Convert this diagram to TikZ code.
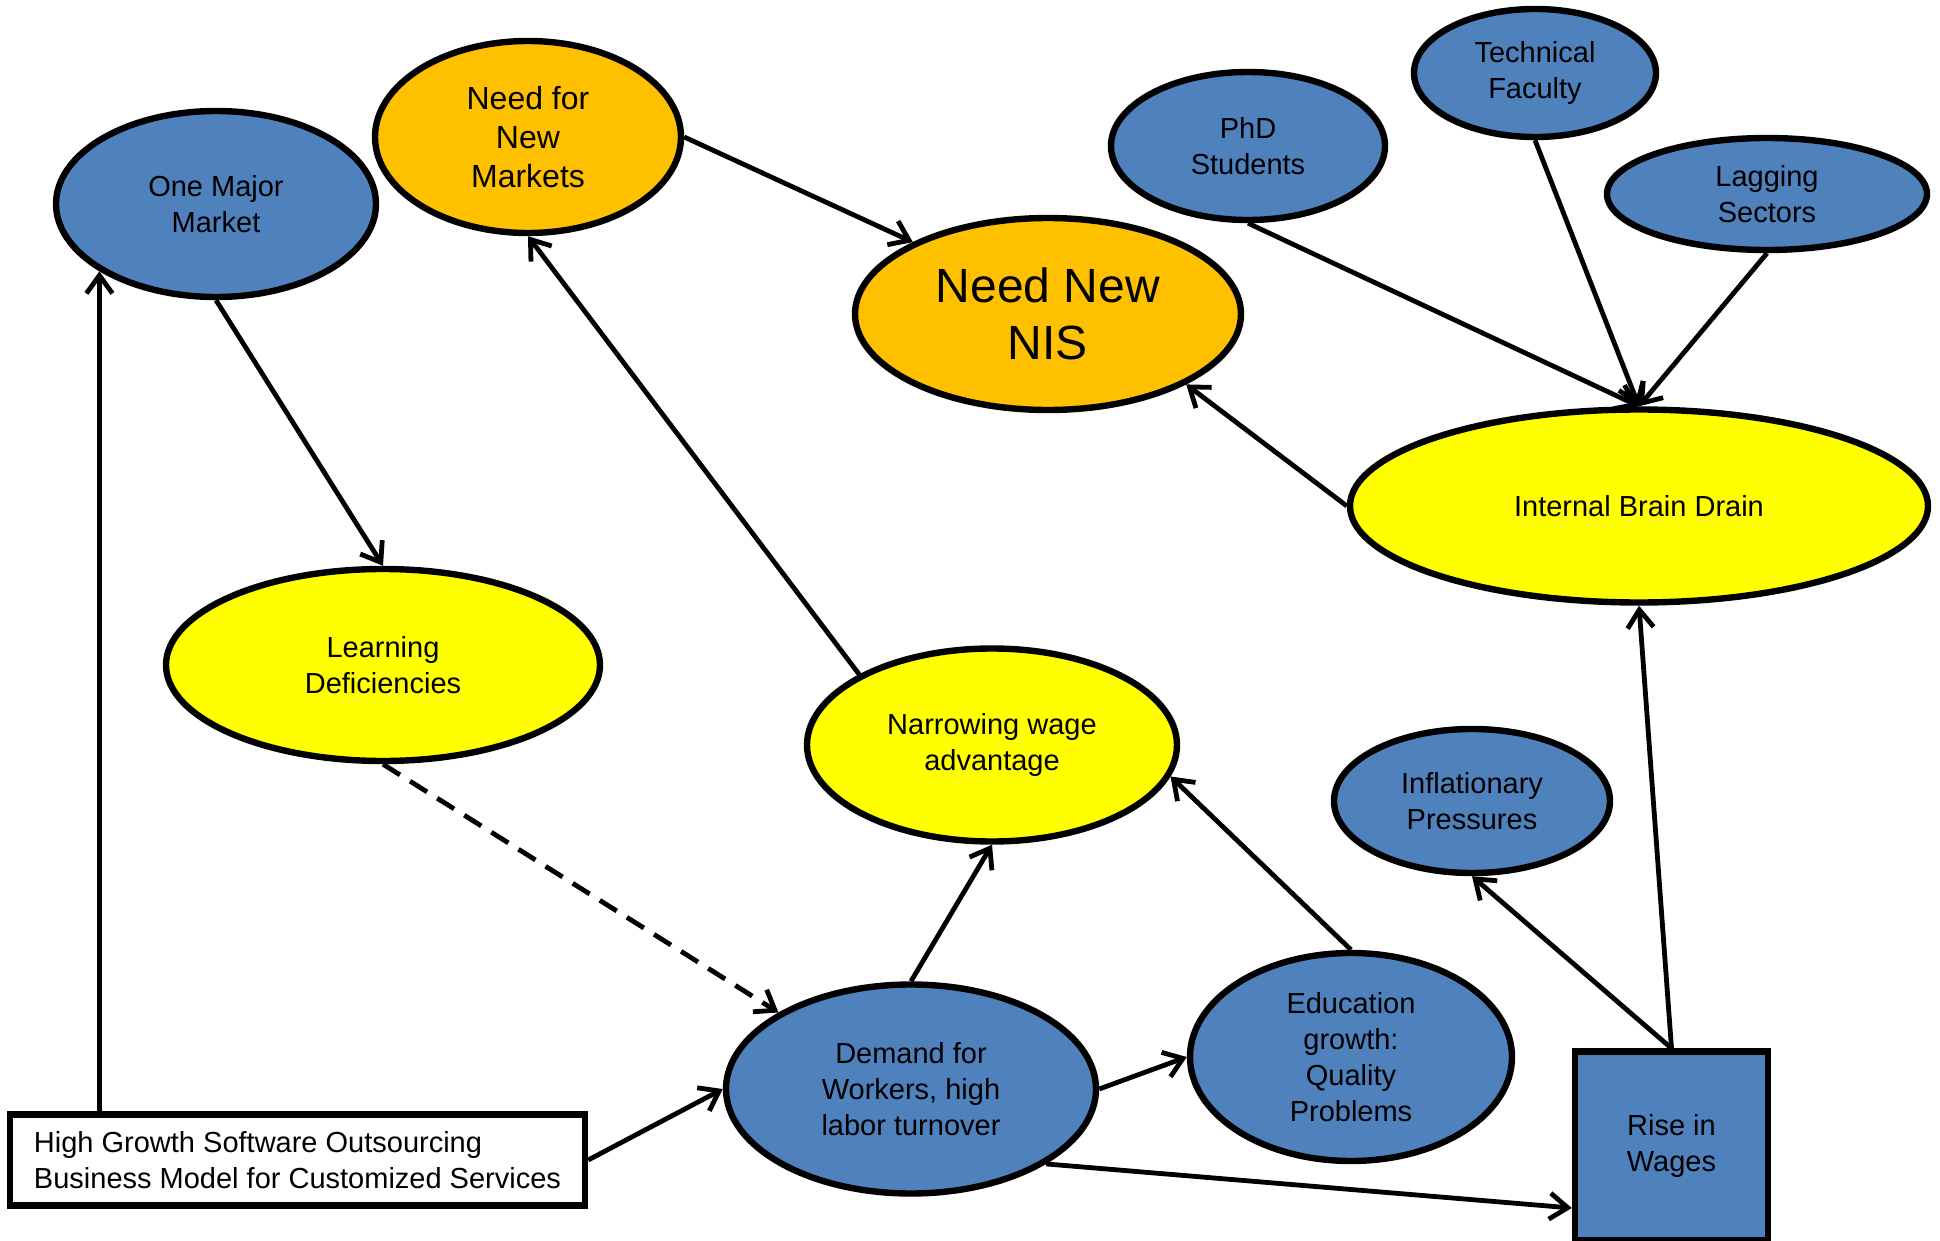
\documentclass[tikz,border=0pt]{standalone}
\usepackage{fontspec}
\setmainfont{Liberation Sans}
\usetikzlibrary{shapes.geometric,arrows.meta}

\definecolor{ovblue}{RGB}{79,129,189}
\definecolor{ovorange}{RGB}{255,192,0}
\definecolor{ovyellow}{RGB}{255,255,0}

\tikzset{every picture/.style={line width=0.75pt}}
\tikzset{
  oval/.style={ellipse, draw, line width=3.2pt, inner sep=0pt, align=center,
    font=\fontsize{14.5}{18}\selectfont},
  blueoval/.style={oval, fill=ovblue},
  orangeoval/.style={oval, fill=ovorange},
  yellowoval/.style={oval, fill=ovyellow},
  boxnode/.style={rectangle, draw, line width=3.2pt, inner sep=0pt,
    font=\fontsize{14.5}{18}\selectfont},
  conn/.style={line width=2.4pt, -{Straight Barb[length=9pt,width=13pt]}},
  dashconn/.style={conn, dash pattern=on 10pt off 6pt}
}

\begin{document}
\begin{tikzpicture}[x=0.5pt,y=0.5pt,yscale=-1,xscale=1]
\useasboundingbox (0,0) rectangle (1940,1241);

% Text Node
\node[blueoval, minimum width=160pt, minimum height=93pt] (omm) at (216,204) {One Major\\Market};
% Text Node
\node[orangeoval, minimum width=153pt, minimum height=96pt, font=\fontsize{16}{19.5}\selectfont] (nnm) at (528,137) {Need for\\New\\Markets};
% Text Node
\node[orangeoval, minimum width=193pt, minimum height=96pt, font=\fontsize{24}{28.5}\selectfont] (nis) at (1048,314) {Need New\\NIS};
% Text Node
\node[blueoval, minimum width=137pt, minimum height=74pt] (phd) at (1248,146) {PhD\\Students};
% Text Node
\node[blueoval, minimum width=121pt, minimum height=64pt] (tf) at (1535,73) {Technical\\Faculty};
% Text Node
\node[blueoval, minimum width=160pt, minimum height=56pt] (ls) at (1767,194) {Lagging\\Sectors};
% Text Node
\node[yellowoval, minimum width=289pt, minimum height=96.5pt] (ibd) at (1639,506) {Internal Brain Drain};
% Text Node
\node[yellowoval, minimum width=217pt, minimum height=96pt] (ld) at (383,665) {Learning\\Deficiencies};
% Text Node
\node[yellowoval, minimum width=185pt, minimum height=96.5pt] (nwa) at (992,745) {Narrowing wage\\advantage};
% Text Node
\node[blueoval, minimum width=138pt, minimum height=72pt] (ip) at (1472,801) {Inflationary\\Pressures};
% Text Node
\node[blueoval, minimum width=185pt, minimum height=104.5pt] (dfw) at (911,1089) {Demand for\\Workers, high\\labor turnover};
% Text Node
\node[blueoval, minimum width=161pt, minimum height=104pt] (edu) at (1351,1057) {Education\\growth:\\Quality\\Problems};
% Text Node
\node[boxnode, fill=ovblue, align=center, minimum width=96.5pt, minimum height=94.5pt] (rw) at (1671.5,1146) {Rise in\\Wages};
% Text Node
\node[boxnode, fill=white, align=left, minimum width=287.5pt, minimum height=45.5pt] (hg) at (297.5,1160) {High Growth Software Outsourcing\\Business Model for Customized Services};

% Connection
\draw[conn] (hg.north -| omm.210) -- (omm.210);
% Connection
\draw[conn] (omm.south) -- (ld.north);
% Connection
\draw[conn] (nnm.east) -- (nis.152);
% Connection
\draw[conn] (nwa.152) -- (nnm.south);
% Connection
\draw[conn] (ibd.west) -- (nis.-27);
% Connection
\draw[conn] (phd.south) -- (ibd.north);
% Connection
\draw[conn] (tf.south) -- (ibd.north);
% Connection
\draw[conn] (ls.south) -- (ibd.north);
% Connection
\draw[conn] (rw.north) -- (ibd.south);
% Connection
\draw[conn] (rw.north) -- (ip.south);
% Connection
\draw[dashconn] (ld.south) -- (dfw.150);
% Connection
\draw[conn] (dfw.north) -- (nwa.south);
% Connection
\draw[conn] (edu.north) -- (nwa.-10);
% Connection
\draw[conn] (dfw.east) -- (edu.west);
% Connection
\draw[conn] (dfw.-29) -- ([yshift=31pt]rw.west);
% Connection
\draw[conn] (hg.east) -- (dfw.west);

\end{tikzpicture}
\end{document}
